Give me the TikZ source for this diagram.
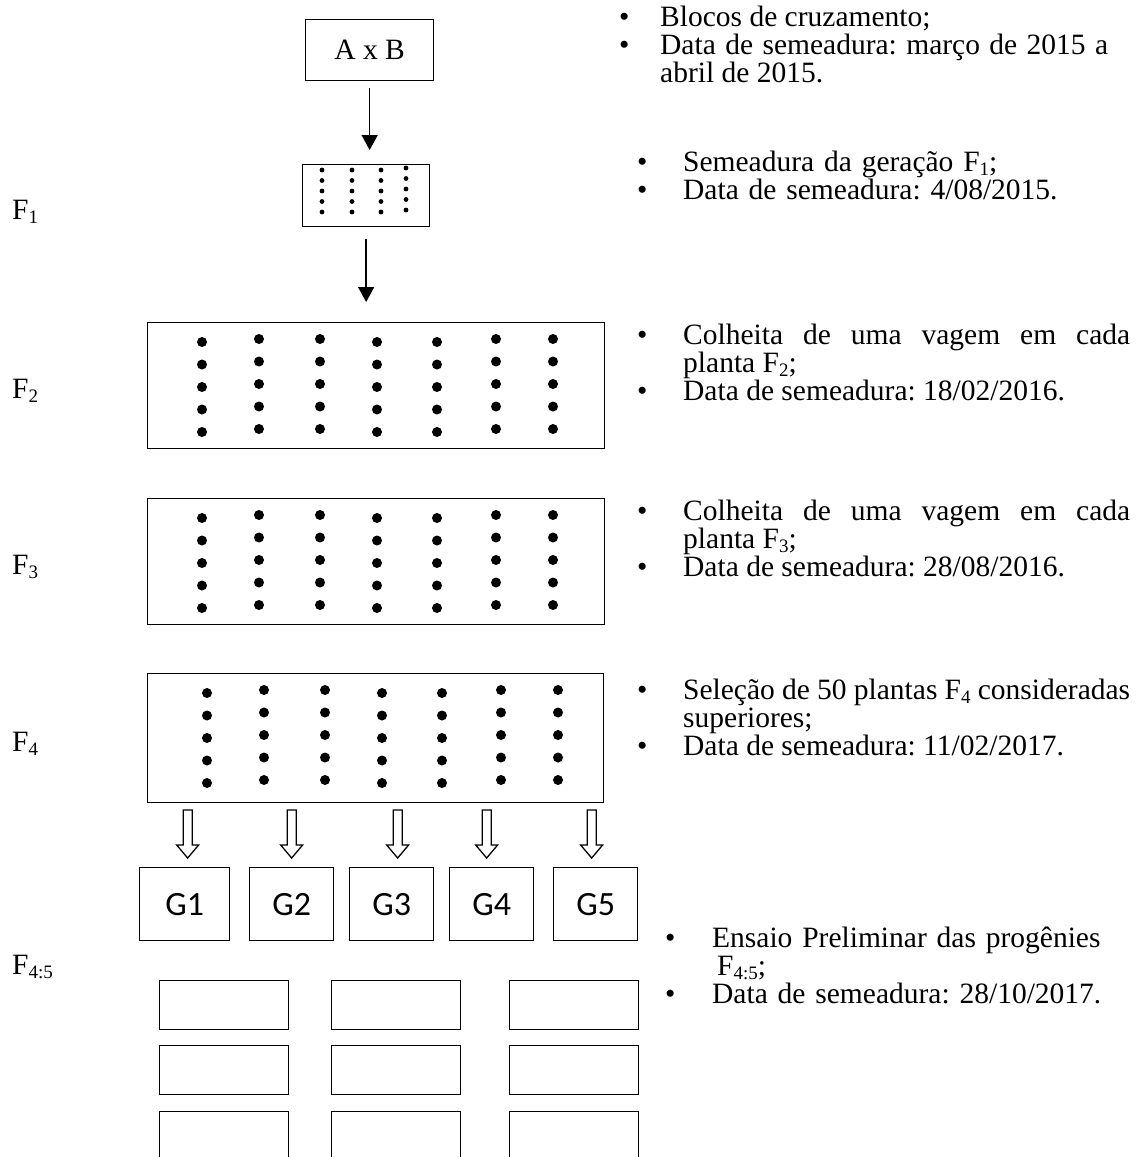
\documentclass[tikz,border=0pt]{standalone}
\usepackage{fontspec}
\setmainfont{Liberation Serif}
\newfontfamily\calibri{Carlito}
\usetikzlibrary{arrows.meta,calc}
\frenchspacing
% bullet item with hanging indent
\newcommand{\bitem}[2]{\par\noindent\hangindent=#1\hangafter=1\relax
  \makebox[#1][l]{\textbullet}#2}
% small lowered index, as in F2
\newcommand{\gsub}[1]{\raisebox{-0.14em}{\fontsize{19}{19}\selectfont #1}}

\begin{document}
\begin{tikzpicture}[x=1pt, y=1pt,
    font=\fontsize{29.5}{28}\selectfont,
    box/.style={draw, line width=1.3pt, inner sep=0pt, anchor=north west},
    plot/.style={box, minimum width=457pt, minimum height=126pt},
    gbox/.style={box, minimum width=84pt, minimum height=73pt,
      font=\calibri\fontsize{34}{34}\selectfont},
    parcel/.style={box, minimum width=129pt, minimum height=49pt},
    notes/.style={anchor=north west, inner sep=0pt, align=justify,
      execute at begin node={\hyphenpenalty=10000\tolerance=9999\hbadness=10000}},
    gen/.style={anchor=base west, inner sep=0pt},
    flow/.style={line width=1.6pt, -{Triangle[width=16pt,length=15pt]}},
    hollow/.style={draw, line width=1.3pt, fill=white, line join=miter}]
  \useasboundingbox (0,0) rectangle (1136,-1157);
  % crossing block and F1 plot
  \node[box, minimum width=128pt, minimum height=61pt] (cross) at (305,-19) {A x B};
  \node[box, minimum width=127pt, minimum height=62pt] (f1) at (302,-164) {};
  \foreach \cx/\cy in {20/6,50/6,79/6,104/4}
    \foreach \k in {0,...,4}
      \fill ($(f1.north west)+(\cx,{-\cy-10.5*\k})$) circle (2.4);
  \draw[flow, shorten <=7pt, shorten >=14pt] (cross.south) -- (cross.south |- f1.north);
  % F2, F3 and F4 plots
  \node[plot] (f2) at (147,-322) {};
  \node[plot] (f3) at (147,-498) {};
  \node[plot, minimum width=456pt, minimum height=129pt] (f4) at (147,-673) {};
  \draw[flow, shorten <=12pt, shorten >=20pt] (f1.south) -- (f1.south |- f2.north);
  \foreach \pl/\dx in {f2/0,f3/0,f4/5}
    \foreach \cx/\cy in {55/20,112/17,173/17,230/20,290/20,349/17,406/17}
      \foreach \k in {0,...,4}
        \fill ($(\pl.north west)+({\cx+\dx},{-\cy-22.5*\k})$) circle (5);
  % progeny groups
  \node[gbox, minimum width=90pt] (g1) at (139,-867) {G1};
  \node[gbox] (g2) at (249,-867) {G2};
  \node[gbox] (g3) at (349,-867) {G3};
  \node[gbox] (g4) at (449,-867) {G4};
  \node[gbox] (g5) at (553,-867) {G5};
  \foreach \g/\dx in {1/3,2/0,3/6,4/-5,5/-4}
    \draw[hollow] ($(g\g.north)+(\dx,9)$) -- ++(-11,13) -- ++(6.5,0)
      -- ++(0,35) -- ++(9,0) -- ++(0,-35) -- ++(6.5,0) -- cycle;
  % F4:5 plots, cut by the page edge
  \foreach \r/\ry in {1/980,2/1045,3/1111}
    \foreach \c/\cx in {1/159,2/331,3/509}
      \node[parcel] (p\r\c) at (\cx,-\ry) {};
  % generation labels
  \node[gen] (lf1) at (12,-219) {F\gsub{1}};
  \node[gen] (lf2) at (12,-398) {F\gsub{2}};
  \node[gen] (lf3) at (12,-574) {F\gsub{3}};
  \node[gen] (lf4) at (12,-751) {F\gsub{4}};
  \node[gen] (lf45) at (12,-974) {F\gsub{4:5}};
  % notes
  \node[notes, text width=489pt] (n1) at (619,2)
    {\bitem{41pt}{Blocos de cruzamento;}
     \bitem{41pt}{Data de semeadura: março de 2015 a abril de 2015.}\par};
  \node[notes, align=left, text width=460pt] (n2) at (637,-143)
    {\bitem{46pt}{Semeadura da geração F\gsub{1};}
     \bitem{46pt}{Data de semeadura: 4/08/2015.}\par};
  \node[notes, text width=493pt] (n3) at (637,-316)
    {\bitem{46pt}{Colheita de uma vagem em cada planta F\gsub{2};}
     \bitem{46pt}{Data de semeadura: 18/02/2016.}\par};
  \node[notes, text width=493pt] (n4) at (637,-492)
    {\bitem{46pt}{Colheita de uma vagem em cada planta F\gsub{3};}
     \bitem{46pt}{Data de semeadura: 28/08/2016.}\par};
  \node[notes, text width=493pt] (n5) at (637,-671)
    {\bitem{46pt}{Seleção de 50 plantas F\gsub{4} consideradas superiores;}
     \bitem{46pt}{Data de semeadura: 11/02/2017.}\par};
  \node[notes, align=left, text width=470pt] (n6) at (665,-919)
    {\bitem{47pt}{Ensaio Preliminar das progênies\hfil\break
       \hspace*{5pt}F\gsub{4:5};}
     \bitem{47pt}{Data de semeadura: 28/10/2017.}\par};
\end{tikzpicture}
\end{document}
